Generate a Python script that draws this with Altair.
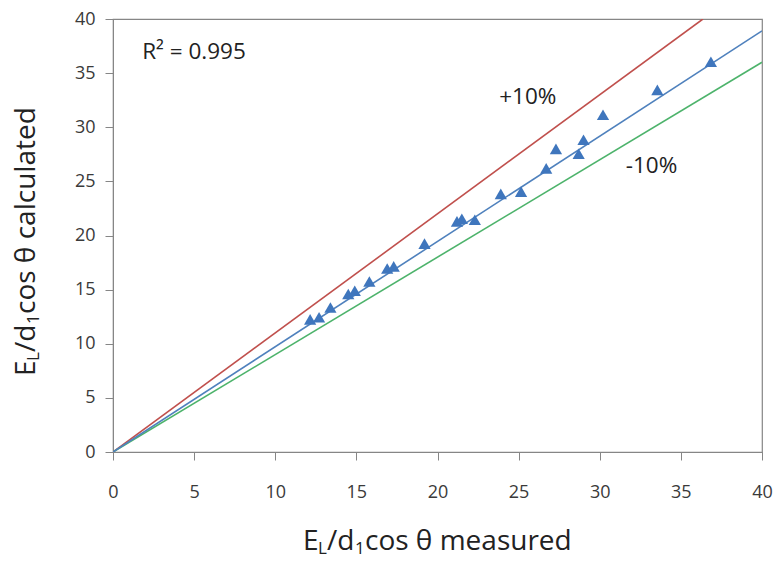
import altair as alt
import pandas as pd

# measured vs calculated values
measured = [12.15, 12.7, 13.4, 14.5, 14.9, 15.8, 16.9, 17.3, 19.2, 21.2, 21.5, 22.3,
            23.9, 25.15, 26.7, 27.3, 28.7, 29.0, 30.2, 33.55, 36.85]
calculated = [12.25, 12.45, 13.35, 14.6, 14.9, 15.75, 16.95, 17.15, 19.25, 21.3, 21.55, 21.45,
              23.85, 24.05, 26.2, 28.0, 27.55, 28.85, 31.15, 33.45, 36.05]

# reference lines (end points)
plus10_x = [0, 36.36]
plus10_y = [0, 40]
minus10_x = [0, 40]
minus10_y = [0, 36]
fit_x = [0, 40]
fit_y = [0, 38.9]

# annotations
ann_text = ["R\u00b2 = 0.995", "+10%", "-10%"]
ann_x = [1.8, 23.8, 31.6]
ann_y = [36.95, 32.8, 26.4]

FONT = "Open Sans"
AX = "#868686"
TXT = "#3a3a3a"

xs = alt.Scale(domain=[0, 40], nice=False)
ys = alt.Scale(domain=[0, 40], nice=False)

pts = pd.DataFrame({"m": measured, "c": calculated})
lines = pd.concat([
    pd.DataFrame({"x": plus10_x, "y": plus10_y, "s": "+10%"}),
    pd.DataFrame({"x": minus10_x, "y": minus10_y, "s": "-10%"}),
    pd.DataFrame({"x": fit_x, "y": fit_y, "s": "fit"}),
])
ann = pd.DataFrame({"t": ann_text, "x": ann_x, "y": ann_y})

xaxis = alt.Axis(values=list(range(0, 41, 5)), grid=False, tickSize=8, labelPadding=23,
                 labelFontSize=18, labelFont=FONT, labelColor=TXT, domainColor=AX,
                 tickColor=AX, title=None, labelFlush=False)
yaxis = alt.Axis(values=list(range(0, 41, 5)), grid=False, tickSize=8, labelPadding=10,
                 labelFontSize=18, labelFont=FONT, labelColor=TXT, domainColor=AX,
                 tickColor=AX, title=None, labelFlush=False)

line_layer = alt.Chart(lines).mark_line(strokeWidth=1.6, clip=True).encode(
    x=alt.X("x:Q", scale=xs, axis=xaxis),
    y=alt.Y("y:Q", scale=ys, axis=yaxis),
    color=alt.Color("s:N", scale=alt.Scale(domain=["+10%", "-10%", "fit"],
                                           range=["#C0504D", "#4DB36B", "#4F81BD"]),
                    legend=None),
    detail="s:N",
)

pt_layer = alt.Chart(pts).mark_point(shape="triangle-up", filled=True, size=150,
                                     color="#3F76BD", opacity=1).encode(
    x=alt.X("m:Q", scale=xs),
    y=alt.Y("c:Q", scale=ys),
)

ann_layer = alt.Chart(ann).mark_text(align="left", baseline="middle", font=FONT,
                                     fontSize=22.5, color="#222").encode(
    x=alt.X("x:Q", scale=xs),
    y=alt.Y("y:Q", scale=ys),
    text="t:N",
)

# axis titles with subscripts, built from text segments
def title_parts(parts, x0, y0, angle):
    layers = []
    for txt, dx, big in parts:
        layers.append(
            alt.Chart(pd.DataFrame({"t": [txt]})).mark_text(
                align="left", baseline="middle", font=FONT,
                fontSize=28 if big else 17, dx=dx, dy=0 if big else 7,
                angle=angle, color="#222", clip=False,
            ).encode(x=alt.value(x0), y=alt.value(y0), text="t:N")
        )
    return layers

segs_x = [("E", 0, True), ("L", 15, False), ("/d", 24, True), ("1", 52, False)]
x_title = title_parts(segs_x + [("cos \u03b8 measured", 62, True)], 190, 523, 0)
y_title = title_parts(segs_x + [("cos \u03b8 calculated", 62, True)], -86, 357, 270)

chart = alt.layer(line_layer, pt_layer, ann_layer, *x_title, *y_title).properties(
    width=649, height=433,
    autosize=alt.AutoSizeParams(type="none"),
    padding={"left": 105, "top": 11, "right": 11, "bottom": 108},
    background="white",
).configure_view(stroke=AX, strokeWidth=1.2)

chart.save("out.html", embed_options={"renderer": "svg", "actions": False})
